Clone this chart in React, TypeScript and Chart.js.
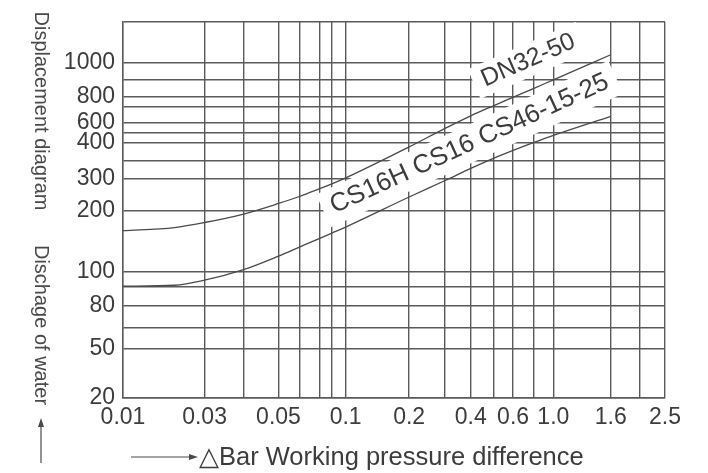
import React, { useEffect, useRef } from 'react';
import { Chart, registerables, LinearScale } from 'chart.js';

Chart.register(...registerables);

// ---- Axis grid values and tick labels ----
const xGridValues = [0.01, 0.03, 0.04, 0.05, 0.06, 0.07, 0.08, 0.1, 0.2, 0.3, 0.4, 0.5, 0.6, 0.8, 1.0, 1.6, 2.0, 2.5];
const xTickLabels = ['0.01', '0.03', '', '0.05', '', '', '', '0.1', '0.2', '', '0.4', '', '0.6', '', '1.0', '1.6', '', '2.5'];
const yGridValues = [20, 50, 60, 80, 90, 100, 200, 300, 350, 400, 500, 600, 700, 800, 900, 1000, 1500];
const yTickLabels = ['20', '50', '', '80', '', '100', '200', '300', '', '400', '', '600', '', '800', '', '1000', ''];

// ---- Series ----
const pressure = [0.01, 0.02, 0.03, 0.04, 0.05, 0.06, 0.07, 0.08, 0.1, 0.2, 0.3, 0.4, 0.5, 0.6, 0.8, 1.0, 1.6];
const dn32to50 = [158.9, 164.7, 174.3, 191.8, 218.4, 239.1, 263.6, 281.2, 302.5, 387.4, 545.7, 642, 706.6, 791.6, 848.5, 901.7, 1085.5];
const cs16group = [90.4, 91.0, 94.3, 102.5, 119.4, 132.2, 145.5, 154.8, 165.6, 237.6, 294.1, 327.7, 355.8, 377.5, 401.9, 474.6, 639.1];

const seriesLabels = ['DN32-50', 'CS16H CS16 CS46-15-25'];
// label anchors (in data units: pressure, discharge)
const labelAnchorX = [0.461, 0.0835];
const labelAnchorY = [857.7, 193];

// ---- Nomogram axis layout (fraction of axis length for each grid value) ----
const xAxisFractions = [0, 0.1505, 0.2224, 0.2869, 0.3256, 0.362, 0.3854, 0.4108, 0.5279, 0.5943, 0.6417, 0.6834, 0.7197, 0.7584, 0.794, 0.8999, 0.9526, 1];
const yAxisFractions = [0, 0.1324, 0.1875, 0.2461, 0.2957, 0.3356, 0.4992, 0.5826, 0.6313, 0.6793, 0.7043, 0.731, 0.7752, 0.8018, 0.8455, 0.8908, 1];

const STOPS: Record<string, { v: number[]; f: number[] }> = {
  x: { v: xGridValues, f: xAxisFractions },
  y: { v: yGridValues, f: yAxisFractions },
};

class NomogramScale extends (LinearScale as any) {
  static id = 'nomogram';
  static defaults = (LinearScale as any).defaults;

  _frac(value: number) {
    const s = STOPS[(this as any).id];
    const v = s.v, f = s.f;
    if (value <= v[0]) return f[0];
    for (let i = 1; i < v.length; i++) {
      if (value <= v[i]) {
        const t = (Math.log(value) - Math.log(v[i - 1])) / (Math.log(v[i]) - Math.log(v[i - 1]));
        return f[i - 1] + t * (f[i] - f[i - 1]);
      }
    }
    return f[f.length - 1];
  }

  getPixelForValue(value: number) {
    return (this as any).getPixelForDecimal(this._frac(value));
  }

  getValueForPixel(pixel: number) {
    const s = STOPS[(this as any).id];
    const d = (this as any).getDecimalForPixel(pixel);
    const v = s.v, f = s.f;
    if (d <= f[0]) return v[0];
    for (let i = 1; i < f.length; i++) {
      if (d <= f[i]) {
        const t = (d - f[i - 1]) / (f[i] - f[i - 1]);
        return Math.exp(Math.log(v[i - 1]) + t * (Math.log(v[i]) - Math.log(v[i - 1])));
      }
    }
    return v[v.length - 1];
  }

  buildTicks() {
    const s = STOPS[(this as any).id];
    return s.v.map((value) => ({ value }));
  }
}

Chart.register(NomogramScale as any);

const INK = '#3c3c3c';
const GRID = '#5a5a5a';
const FONT = '"Liberation Sans", Arial, sans-serif';

function drawArrowHead(ctx: CanvasRenderingContext2D, x: number, y: number, dir: 'up' | 'right') {
  ctx.beginPath();
  if (dir === 'up') {
    ctx.moveTo(x, y);
    ctx.lineTo(x - 3, y + 9);
    ctx.lineTo(x + 3, y + 9);
  } else {
    ctx.moveTo(x, y);
    ctx.lineTo(x - 9, y - 3);
    ctx.lineTo(x - 9, y + 3);
  }
  ctx.closePath();
  ctx.fill();
}

const curveLabelPlugin = {
  id: 'curveLabels',
  beforeDatasetsDraw(chart: any) {
    const ctx: CanvasRenderingContext2D = chart.ctx;
    const xs = chart.scales.x;
    const ys = chart.scales.y;
    const boxes = [
      { ang: -23.6, top: -23, bottom: 9, size: 25 },
      { ang: -24.6, top: -25, bottom: 11, size: 26 },
    ];
    ctx.save();
    seriesLabels.forEach((text, i) => {
      const b = boxes[i];
      ctx.font = b.size + 'px ' + FONT;
      const x = xs.getPixelForValue(labelAnchorX[i]);
      const y = ys.getPixelForValue(labelAnchorY[i]);
      const w = ctx.measureText(text).width;
      ctx.save();
      ctx.translate(x, y);
      ctx.rotate((b.ang * Math.PI) / 180);
      ctx.fillStyle = '#ffffff';
      ctx.fillRect(-9, b.top, w + 18, b.bottom - b.top);
      ctx.fillStyle = INK;
      ctx.textAlign = 'left';
      ctx.textBaseline = 'alphabetic';
      ctx.fillText(text, 0, 0);
      ctx.restore();
    });
    ctx.restore();
  },
  afterDraw(chart: any) {
    const ctx: CanvasRenderingContext2D = chart.ctx;
    ctx.save();
    ctx.fillStyle = '#4a4a4a';
    ctx.strokeStyle = '#4a4a4a';
    ctx.font = '20px ' + FONT;
    ctx.textAlign = 'center';
    ctx.textBaseline = 'middle';
    const vt = [
      { t: 'Displacement diagram', y: 111 },
      { t: 'Dischage of water', y: 325 },
    ];
    for (const v of vt) {
      ctx.save();
      ctx.translate(41, v.y);
      ctx.rotate(Math.PI / 2);
      ctx.fillText(v.t, 0, 0);
      ctx.restore();
    }
    ctx.lineWidth = 1.2;
    ctx.beginPath();
    ctx.moveTo(41, 463);
    ctx.lineTo(41, 424);
    ctx.stroke();
    drawArrowHead(ctx, 41, 418, 'up');
    ctx.beginPath();
    ctx.moveTo(131, 457);
    ctx.lineTo(192, 457);
    ctx.stroke();
    drawArrowHead(ctx, 198, 457, 'right');
    ctx.fillStyle = INK;
    ctx.font = '25.5px ' + FONT;
    ctx.textAlign = 'left';
    ctx.fillText('\u25B3Bar Working pressure difference', 199, 458);
    ctx.restore();
  },
};

export default function App() {
  const canvasRef = useRef<HTMLCanvasElement | null>(null);

  useEffect(() => {
    const canvas = canvasRef.current;
    if (!canvas) return;
    const tickFont = { family: FONT, size: 23 };
    const lineStyle = {
      borderColor: '#4a4a4a',
      borderWidth: 1.3,
      pointRadius: 0,
      fill: false,
      cubicInterpolationMode: 'monotone' as const,
    };
    const chart = new Chart(canvas, {
      type: 'line',
      data: {
        datasets: [
          { label: seriesLabels[0], data: pressure.map((p, i) => ({ x: p, y: dn32to50[i] })), ...lineStyle },
          { label: seriesLabels[1], data: pressure.map((p, i) => ({ x: p, y: cs16group[i] })), ...lineStyle },
        ],
      },
      options: {
        animation: false,
        responsive: true,
        maintainAspectRatio: false,
        layout: { padding: { top: 22, right: 43, left: 0, bottom: 0 } },
        plugins: { legend: { display: false }, tooltip: { enabled: false } },
        scales: {
          x: {
            type: 'nomogram' as any,
            min: xGridValues[0],
            max: xGridValues[xGridValues.length - 1],
            grid: { color: GRID, lineWidth: 1.4, drawTicks: false },
            border: { color: GRID, width: 1.4 },
            ticks: {
              autoSkip: false,
              maxRotation: 0,
              minRotation: 0,
              padding: 6,
              color: INK,
              font: tickFont,
              callback: (_v: any, i: number) => xTickLabels[i],
            },
            afterFit: (s: any) => {
              s.height = 75;
            },
          } as any,
          y: {
            type: 'nomogram' as any,
            min: yGridValues[0],
            max: yGridValues[yGridValues.length - 1],
            grid: { color: GRID, lineWidth: 1.4, drawTicks: false },
            border: { color: GRID, width: 1.4 },
            ticks: {
              autoSkip: false,
              padding: 8,
              color: INK,
              font: tickFont,
              callback: (_v: any, i: number) => yTickLabels[i],
            },
            afterFit: (s: any) => {
              s.width = 123;
            },
          } as any,
        },
      },
      plugins: [curveLabelPlugin],
    });
    return () => chart.destroy();
  }, []);

  return (
    <div style={{ position: 'fixed', left: 0, top: 0, width: 708, height: 473, background: '#fff' }}>
      <canvas ref={canvasRef} />
    </div>
  );
}
